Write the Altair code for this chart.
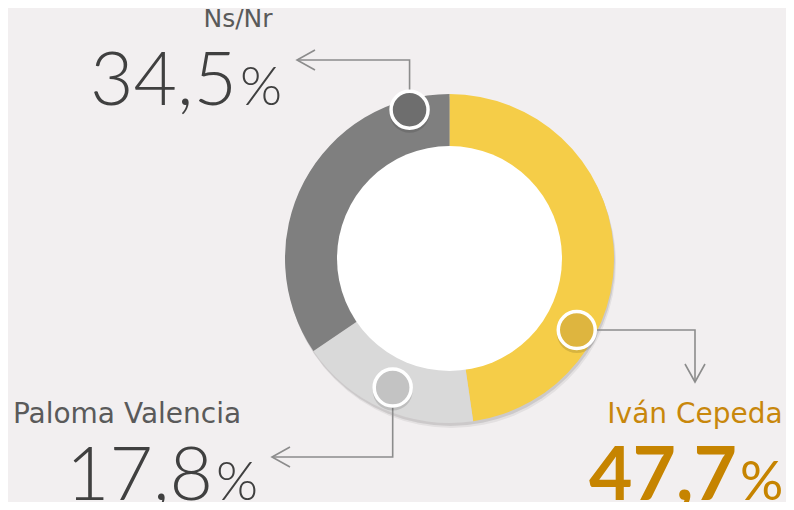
import math
import altair as alt
import pandas as pd

# ---------------- data ----------------
categories = ["Iván Cepeda", "Paloma Valencia", "Ns/Nr"]
values = [47.7, 17.8, 34.5]
value_labels = ["47,7", "17,8", "34,5"]

# ---------------- styles / layout ----------------
seg_colors = ["#F5CD48", "#D9D9D9", "#7F7F7F"]
marker_colors = ["#DEB53F", "#C3C3C3", "#6E6E6E"]
BG = "#F2EFF0"
NUM_FONT = "Lato"
LAB_FONT = "DejaVu Sans"
CX, CY = 449.5, 258.5          # page coordinates of donut centre
R_OUT, R_IN = 164.5, 112.5
OFF = 8                        # page margin
W, H = 778, 494

# where each marker sits inside its slice (fraction of the slice, radius)
marker_frac = [0.695, 0.5, 0.879]
marker_rad = [146, 141, 154]

xs = alt.Scale(domain=[OFF, OFF + W], range=[0, W])
ys = alt.Scale(domain=[OFF, OFF + H], range=[0, H])

donut = pd.DataFrame({"cat": categories, "value": values, "idx": range(3)})
cscale = alt.Scale(domain=categories, range=seg_colors)
mscale = alt.Scale(domain=categories, range=marker_colors)

# marker positions computed from the data
total = sum(values)
mx, my = [], []
cum = 0.0
for v, f, r in zip(values, marker_frac, marker_rad):
    ang = (cum + v * f) / total * 2 * math.pi
    mx.append(CX + r * math.sin(ang))
    my.append(CY - r * math.cos(ang))
    cum += v
markers = pd.DataFrame({"cat": categories, "x": mx, "y": my})

# leader lines (elbow + arrow head)
ivan_bend = (695, my[0])
ivan_tip = (695, 382)
pal_bend = (mx[1], 457)
pal_tip = (272, 457)
ns_bend = (mx[2], 60)
ns_tip = (297, 60)
A_LEN, A_HALF = 18, 10

rows = []
def add_path(gid, pts):
    for i, (x, y) in enumerate(pts):
        rows.append({"g": gid, "o": i, "x": x, "y": y})

add_path("ivan", [(mx[0], my[0]), ivan_bend, ivan_tip])
add_path("ivan_a", [(ivan_tip[0] - A_HALF, ivan_tip[1] - A_LEN), ivan_tip,
                    (ivan_tip[0] + A_HALF, ivan_tip[1] - A_LEN)])
add_path("pal", [(mx[1], my[1]), pal_bend, pal_tip])
add_path("pal_a", [(pal_tip[0] + A_LEN, pal_tip[1] - A_HALF), pal_tip,
                   (pal_tip[0] + A_LEN, pal_tip[1] + A_HALF)])
add_path("ns", [(mx[2], my[2]), ns_bend, ns_tip])
add_path("ns_a", [(ns_tip[0] + A_LEN, ns_tip[1] - A_HALF), ns_tip,
                  (ns_tip[0] + A_LEN, ns_tip[1] + A_HALF)])
lines = pd.DataFrame(rows)

X = lambda f="x": alt.X(f"{f}:Q", scale=xs, axis=None)
Y = lambda f="y": alt.Y(f"{f}:Q", scale=ys, axis=None)

# ---------------- layers ----------------
shadow_df = pd.DataFrame({"x": [CX + 1, CX + 2], "y": [CY + 3, CY + 5], "op": [0.10, 0.06]})
shadow = alt.Chart(shadow_df).mark_point(
    shape="circle", filled=True, size=(2 * R_OUT) ** 2, color="#000000", strokeWidth=0
).encode(x=X(), y=Y(), opacity=alt.Opacity("op:Q", scale=None, legend=None))

arcs = alt.Chart(donut).mark_arc(radius=R_OUT, innerRadius=R_IN - 1).encode(
    theta=alt.Theta("value:Q", stack=True),
    order=alt.Order("idx:Q"),
    color=alt.Color("cat:N", scale=cscale, legend=None),
    x=alt.value(CX - OFF), y=alt.value(CY - OFF),
)

hole = alt.Chart(pd.DataFrame({"x": [CX], "y": [CY]})).mark_point(
    shape="circle", filled=True, size=(2 * R_IN) ** 2, color="#FFFFFF", opacity=1, strokeWidth=0
).encode(x=X(), y=Y())

leader = alt.Chart(lines).mark_line(color="#8C8C8C", strokeWidth=1.6).encode(
    x=X(), y=Y(), detail="g:N", order="o:Q"
)

mshadow = alt.Chart(markers).transform_calculate(ys="datum.y + 3").mark_point(
    shape="circle", filled=True, size=40 ** 2, color="#000000", opacity=0.12, strokeWidth=0
).encode(x=X(), y=Y("ys"))

mk = alt.Chart(markers).mark_point(
    shape="circle", filled=True, size=37 ** 2, stroke="#FFFFFF", strokeWidth=3.5, opacity=1
).encode(x=X(), y=Y(), fill=alt.Fill("cat:N", scale=mscale, legend=None))

def txt(text, x, y, size, color, align, weight, font):
    return alt.Chart(pd.DataFrame({"t": [text], "x": [x], "y": [y]})).mark_text(
        font=font, fontSize=size, fontWeight=weight, color=color, align=align, baseline="alphabetic"
    ).encode(x=X(), y=Y(), text="t:N")

texts = [
    txt(categories[2], 238, 27, 25, "#5A5A5A", "center", 400, LAB_FONT),
    txt(value_labels[2], 237, 105, 75, "#404040", "right", 300, NUM_FONT),
    txt("%", 240, 105, 54, "#404040", "left", 300, NUM_FONT),
    txt(categories[1], 127, 423, 28, "#5A5A5A", "center", 400, LAB_FONT),
    txt(value_labels[1], 213, 500, 75, "#404040", "right", 300, NUM_FONT),
    txt("%", 216, 500, 54, "#404040", "left", 300, NUM_FONT),
    txt(categories[0], 695, 423, 28, "#C8870C", "center", 400, LAB_FONT),
    txt(value_labels[0], 737, 500, 75, "#C68400", "right", 700, NUM_FONT),
    txt("%", 740, 500, 54, "#C68400", "left", 400, NUM_FONT),
]

chart = alt.layer(shadow, arcs, hole, leader, mshadow, mk, *texts).properties(
    width=W, height=H, background=BG, padding=0,
    autosize=alt.AutoSizeParams(type="none"),
).configure_view(stroke=None)

chart.save("out.html", embed_options={"renderer": "svg", "actions": False})
